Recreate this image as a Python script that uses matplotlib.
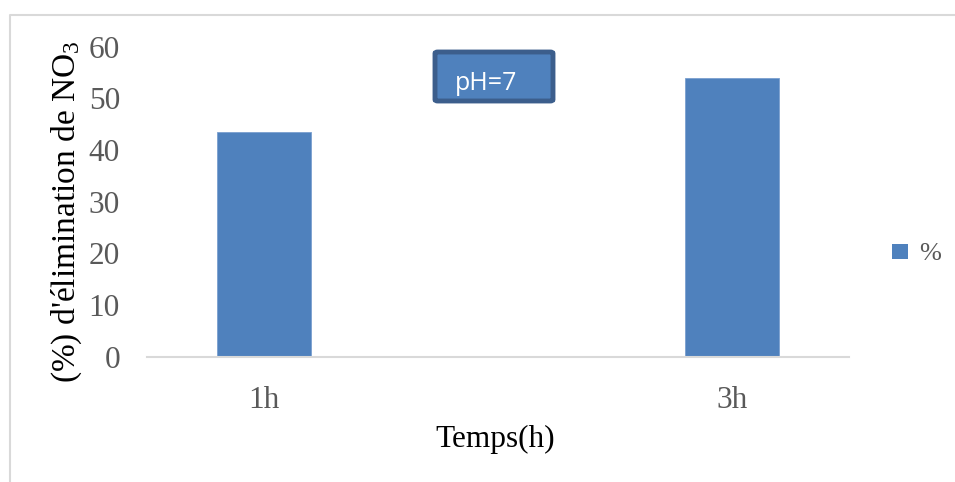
import matplotlib
matplotlib.use("Agg")
import matplotlib.pyplot as plt
from matplotlib.lines import Line2D
from matplotlib.patches import FancyBboxPatch, Rectangle

plt.rcParams["font.family"] = ["Liberation Serif", "DejaVu Serif"]
plt.rcParams["mathtext.default"] = "regular"

categories = ["1h", "3h"]
removal = [43.4, 54.0]
series_name = "%"
y_ticks = [0, 10, 20, 30, 40, 50, 60]

W, H = 955, 482
fig = plt.figure(figsize=(W / 100, H / 100), dpi=100)

def fx(px):
    return px / W

def fy(py):
    return 1 - py / H

bar_color = "#4F81BD"
tick_color = "#595959"

ax = fig.add_axes([fx(147), fy(357), fx(849) - fx(147), fy(46.5) - fy(357)])
x = list(range(len(categories)))
ax.bar(x, removal, width=0.2, color=bar_color, edgecolor="#7A9FCF", linewidth=0.6,
       label=series_name, zorder=2)
ax.set_xlim(-0.25, 1.25)
ax.set_ylim(0, 60)
ax.set_yticks(y_ticks)
ax.set_xticks(x)
ax.set_xticklabels(categories)
ax.tick_params(axis="both", length=0, labelsize=22.5, colors=tick_color)
ax.tick_params(axis="y", pad=19.5)
ax.tick_params(axis="x", pad=21)
for side in ["top", "right", "left"]:
    ax.spines[side].set_visible(False)
ax.spines["bottom"].set_color("#D9D9D9")
ax.spines["bottom"].set_linewidth(1.5)

# axis titles
fig.text(fx(495), fy(439), "Temps(h)", ha="center", va="center", fontsize=22.5, color="black")
fig.text(fx(67), fy(212), "(%) d'élimination de NO$_3$", ha="center", va="center",
         rotation=90, fontsize=24, color="black")

# legend
fig.patches.append(Rectangle((fx(892), fy(259)), fx(908) - fx(892), fy(244) - fy(259),
                             transform=fig.transFigure, facecolor=bar_color,
                             edgecolor="none"))
fig.text(fx(919), fy(254), series_name, ha="left", va="center", fontsize=19, color=tick_color)

# annotation box
fig.patches.append(FancyBboxPatch((fx(435), fy(101)), fx(553) - fx(435), fy(52) - fy(101),
                                  boxstyle="round,pad=0,rounding_size=0.003",
                                  transform=fig.transFigure, facecolor=bar_color,
                                  edgecolor="#3C5E8C", linewidth=3.5))
fig.text(fx(455), fy(84), "pH=7", ha="left", va="center", fontsize=18,
         color="white", family=["Open Sans", "DejaVu Sans"])

# chart frame
fig.lines.append(Line2D([fx(9.5), fx(9.5), fx(955)], [0, fy(14.5), fy(14.5)],
                        transform=fig.transFigure, color="#D9D9D9", linewidth=1.5))

fig.savefig("out.png", dpi=100, facecolor="white")
